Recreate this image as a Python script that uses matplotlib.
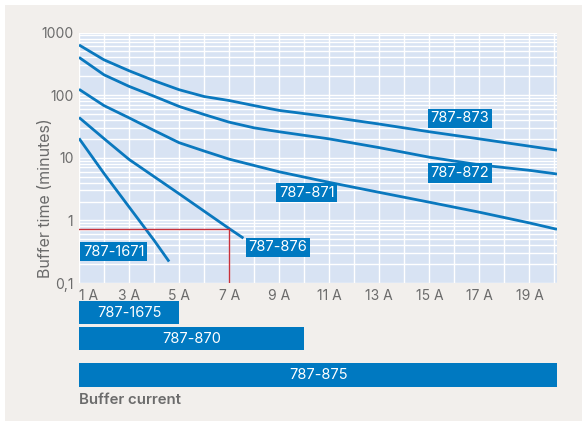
import matplotlib
matplotlib.use("Agg")
import matplotlib.pyplot as plt
from matplotlib.patches import Rectangle
import numpy as np

plt.rcParams['font.family'] = ['Inter', 'DejaVu Sans']

# buffer time curves (minutes) against buffer current (A)
amps_873 = [1, 2, 3, 4, 5, 6, 7, 8, 9, 11, 13, 15, 17, 19, 20.1]
time_873 = [633, 366, 245, 170, 122, 95, 82, 68, 57, 45, 34.5, 26, 20, 15.3, 13.2]

amps_872 = [1, 2, 3, 4, 5, 6, 7, 8, 9, 11, 13, 15, 17, 19, 20.1]
time_872 = [401, 211, 138, 96, 66, 49, 37, 30, 26, 20, 14.5, 10.2, 7.7, 6.3, 5.5]

amps_871 = [1, 2, 3, 4, 5, 6, 7, 9, 11, 13, 15, 17, 19, 20.1]
time_871 = [124, 68, 43.4, 27.3, 17.4, 12.8, 9.5, 5.96, 4.04, 2.8, 1.95, 1.35, 0.91, 0.72]

amps_876 = [1, 2, 3, 5, 7, 7.57]
time_876 = [44, 20.2, 9.4, 2.66, 0.74, 0.52]

amps_1671 = [1, 2, 3, 4, 4.6]
time_1671 = [20.4, 5.6, 1.64, 0.48, 0.22]

series = [
    ("787-873", amps_873, time_873),
    ("787-872", amps_872, time_872),
    ("787-871", amps_871, time_871),
    ("787-876", amps_876, time_876),
    ("787-1671", amps_1671, time_1671),
]

# where each curve's name tag sits (A, minutes)
tag_pos = {
    "787-873": (16.22, 42.4),
    "787-872": (16.22, 5.7),
    "787-871": (10.1, 2.78),
    "787-876": (8.94, 0.372),
    "787-1671": (2.38, 0.316),
}

# marked operating point
mark_amps = 7
mark_time = 0.74

# current ranges of the modules
range_names = ["787-1675", "787-870", "787-875"]
range_start = [1, 1, 1]
range_end = [5, 10, 20.1]

x_ticks = [1, 3, 5, 7, 9, 11, 13, 15, 17, 19]
x_labels = ["%d A" % a for a in x_ticks]
y_ticks = [0.1, 1, 10, 100, 1000]
y_labels = ["0,1", "1", "10", "100", "1000"]

BLUE = "#0a78be"
TAG = "#0079c1"
GREY = "#6b6b6b"
W, H = 582, 421

fig = plt.figure(figsize=(W / 100, H / 100), dpi=100)
fig.patch.set_facecolor("white")
fig.patches.append(Rectangle((5 / W, 0), 1, 1 - 5 / H, transform=fig.transFigure,
                             facecolor="#f2efec", edgecolor="none", zorder=-10))

ax = fig.add_axes([79 / W, 1 - 283 / H, 478 / W, 250.5 / H])
ax.set_facecolor("#d8e3f3")
ax.set_yscale("log")
ax.set_ylim(0.1, 1000)
ax.set_xlim(1, 20.1)
for s in ax.spines.values():
    s.set_visible(False)

ax.set_xticks(range(1, 21), minor=True)
ax.set_yticks(y_ticks)
ax.set_yticklabels(y_labels)
ax.set_xticks(x_ticks)
ax.set_xticklabels(x_labels)
ax.xaxis.get_majorticklabels()[0].set_horizontalalignment("left")
ax.tick_params(which="both", length=0, colors=GREY, labelsize=10, pad=4)
ax.grid(True, which="both", color="white", lw=1)
ax.set_axisbelow(True)

for name, a, t in series:
    ax.plot(a, t, color=BLUE, lw=2, solid_capstyle="butt", zorder=3)
    tx, ty = tag_pos[name]
    ax.text(tx, ty, name, color="white", fontsize=10.5, ha="center", va="center", zorder=5,
            bbox=dict(boxstyle="square,pad=0.18", facecolor=TAG, edgecolor="none"))

red = "#c8313b"
ax.plot([1, mark_amps], [mark_time, mark_time], color=red, lw=1, zorder=4)
ax.plot([mark_amps, mark_amps], [0.1, mark_time], color=red, lw=1, zorder=4)

fig.text(46 / W, 1 - 278 / H, "Buffer time (minutes)", rotation=90, ha="center",
         va="bottom", color=GREY, fontsize=11.5)

# module current ranges as bars below the chart
rows = [0, 1, 2.4]
ax2 = fig.add_axes([79 / W, 1 - 388 / H, 478 / W, 88.4 / H])
ax2.set_xlim(1, 20.1)
ax2.set_ylim(2.9, -0.5)
ax2.axis("off")
for r, name, a0, a1 in zip(rows, range_names, range_start, range_end):
    ax2.barh(r, a1 - a0, left=a0, height=0.885, color=TAG)
    ax2.text((a0 + a1) / 2, r, name, color="white", fontsize=10.5, ha="center", va="center")

fig.text(79 / W, 1 - 399.5 / H, "Buffer current", ha="left", va="center",
         color=GREY, fontsize=10.8, fontweight="semibold")

fig.savefig("out.png", dpi=100)
